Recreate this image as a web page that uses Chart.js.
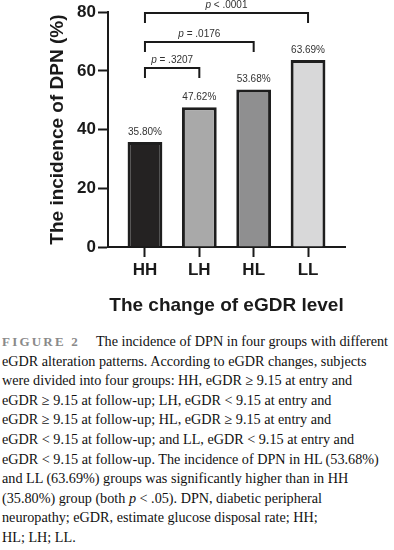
<!DOCTYPE html>
<html>
<head>
<meta charset="utf-8">
<script src="https://cdn.jsdelivr.net/npm/chart.js@4"></script>
<style>
  body { margin: 0; background: #fff; }
  #wrap { position: absolute; left: 0; top: 0; width: 394px; height: 330px; }
  #caption {
    position: absolute; left: 2px; top: 332px; width: 394px;
    font-family: "Liberation Serif", serif; font-size: 14.2px; line-height: 19.6px;
    color: #111;
  }
  #caption div { white-space: nowrap; }
  .fig { color: #8a8a8a; letter-spacing: 2.2px; font-weight: bold; font-size: 13px; margin-right: 16px; }
</style>
</head>
<body>
<div id="wrap"><canvas id="dpnChart" width="394" height="330"></canvas></div>
<div id="caption">
  <div><span class="fig">FIGURE 2</span>The incidence of DPN in four groups with different</div>
  <div>eGDR alteration patterns. According to eGDR changes, subjects</div>
  <div>were divided into four groups: HH, eGDR ≥ 9.15 at entry and</div>
  <div>eGDR ≥ 9.15 at follow-up; LH, eGDR &lt; 9.15 at entry and</div>
  <div>eGDR ≥ 9.15 at follow-up; HL, eGDR ≥ 9.15 at entry and</div>
  <div>eGDR &lt; 9.15 at follow-up; and LL, eGDR &lt; 9.15 at entry and</div>
  <div>eGDR &lt; 9.15 at follow-up. The incidence of DPN in HL (53.68%)</div>
  <div>and LL (63.69%) groups was significantly higher than in HH</div>
  <div>(35.80%) group (both <i>p</i> &lt; .05). DPN, diabetic peripheral</div>
  <div>neuropathy; eGDR, estimate glucose disposal rate; HH;</div>
  <div>HL; LH; LL.</div>
</div>
<script>
const groups = ['HH', 'LH', 'HL', 'LL'];
const incidence = [35.80, 47.62, 53.68, 63.69];
const barColors = ['#242222', '#a9a9a9', '#8f8f90', '#d8d8d9'];
const yTicks = [0, 20, 40, 60, 80];
// pairwise comparisons against HH
const pairs = [[0, 1], [0, 2], [0, 3]];
const pSigns = ['=', '=', '<'];
const pValues = ['.3207', '.0176', '.0001'];

const ink = '#1a1a1a';
const sans = "'Liberation Sans', Arial, sans-serif";

const valueLabels = {
    id: 'valueLabels',
    afterDatasetsDraw(chart) {
        const {ctx, scales: {x, y}} = chart;
        ctx.save();
        ctx.font = '10px ' + sans;
        ctx.fillStyle = '#333';
        ctx.textAlign = 'center';
        ctx.textBaseline = 'bottom';
        incidence.forEach((v, i) => {
            ctx.fillText(v.toFixed(2) + '%', x.getPixelForValue(i), y.getPixelForValue(v) - 5);
        });
        ctx.restore();
    }
};

const brackets = {
    id: 'brackets',
    afterDraw(chart) {
        const {ctx, scales: {x, y}} = chart;
        const levels = [61, 70, 79.8];
        ctx.save();
        ctx.strokeStyle = ink;
        ctx.lineWidth = 2;
        pairs.forEach((p, k) => {
            const x1 = x.getPixelForValue(p[0]);
            const x2 = x.getPixelForValue(p[1]);
            const yy = Math.round(y.getPixelForValue(levels[k]));
            ctx.beginPath();
            ctx.moveTo(x1, yy + 10);
            ctx.lineTo(x1, yy);
            ctx.lineTo(x2, yy);
            ctx.lineTo(x2, yy + 10);
            ctx.stroke();

            const rest = ' ' + pSigns[k] + ' ' + pValues[k];
            ctx.font = 'italic 10px ' + sans;
            const w1 = ctx.measureText('p').width;
            ctx.font = '10px ' + sans;
            const w2 = ctx.measureText(rest).width;
            let tx = (x1 + x2) / 2 - (w1 + w2) / 2;
            ctx.fillStyle = '#333';
            ctx.textAlign = 'left';
            ctx.textBaseline = 'bottom';
            ctx.font = 'italic 10px ' + sans;
            ctx.fillText('p', tx, yy - 3);
            ctx.font = '10px ' + sans;
            ctx.fillText(rest, tx + w1, yy - 3);
        });
        ctx.restore();
    }
};

new Chart(document.getElementById('dpnChart'), {
    type: 'bar',
    data: {
        datasets: [{
            label: 'Incidence of DPN',
            data: groups.map((g, i) => ({x: i, y: incidence[i]})),
            backgroundColor: barColors,
            borderColor: '#1e1e1e',
            borderWidth: 3,
            categoryPercentage: 1,
            barPercentage: 0.64,
        }]
    },
    options: {
        responsive: false,
        animation: false,
        layout: {
            padding: {left: 40, right: 49, top: 5, bottom: 0}
        },
        plugins: {
            legend: {display: false},
            tooltip: {enabled: false}
        },
        scales: {
            x: {
                type: 'linear',
                offset: false,
                min: -0.68,
                max: 3.68,
                afterBuildTicks: (s) => { s.ticks = groups.map((g, i) => ({value: i})); },
                afterFit: (s) => { s.height = 83; },
                ticks: {
                    callback: (v) => groups[v],
                    color: ink,
                    font: {family: sans, size: 17, weight: 'bold'},
                    padding: 3,
                    maxRotation: 0,
                },
                grid: {offset: false, drawOnChartArea: false, tickLength: 10, tickWidth: 2, color: ink},
                border: {display: true, width: 2, color: ink},
                title: {
                    display: true,
                    text: 'The change of eGDR level',
                    color: ink,
                    font: {family: sans, size: 19, weight: 'bold'},
                    padding: {top: 0, bottom: 13}
                }
            },
            y: {
                min: 0,
                max: 80,
                afterBuildTicks: (s) => { s.ticks = yTicks.map(v => ({value: v})); },
                afterFit: (s) => { s.width = 68; },
                ticks: {
                    color: ink,
                    font: {family: sans, size: 17, weight: 'bold'},
                    padding: 2,
                },
                grid: {drawOnChartArea: false, tickLength: 10, tickWidth: 2, color: ink},
                border: {display: true, width: 2, color: ink},
                title: {
                    display: true,
                    text: 'The incidence of DPN (%)',
                    color: ink,
                    font: {family: sans, size: 19, weight: 'bold'},
                    padding: {top: 6, bottom: 0}
                }
            }
        }
    },
    plugins: [valueLabels, brackets]
});
</script>
</body>
</html>
